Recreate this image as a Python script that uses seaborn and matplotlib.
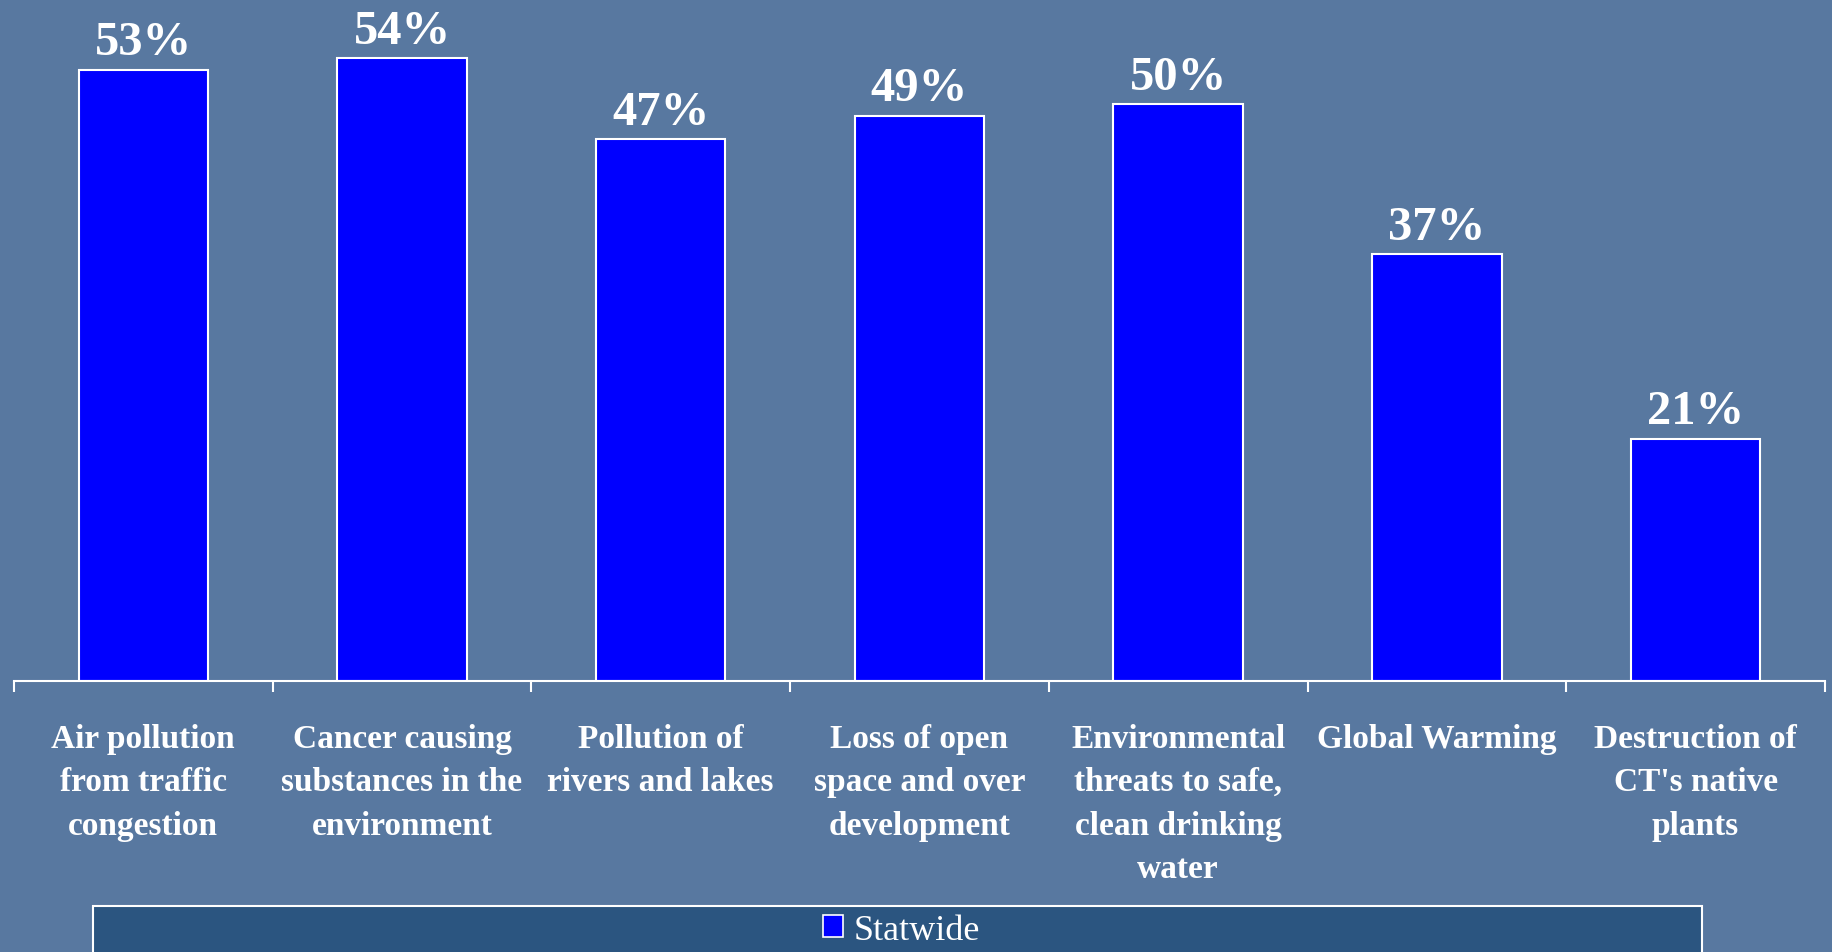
import matplotlib
matplotlib.use('Agg')
import matplotlib.pyplot as plt
from matplotlib.patches import Rectangle, Patch
import seaborn as sns

# data
categories = ["Air pollution\nfrom traffic\ncongestion",
              "Cancer causing\nsubstances in the\nenvironment",
              "Pollution of\nrivers and lakes",
              "Loss of open\nspace and over\ndevelopment",
              "Environmental\nthreats to safe,\nclean drinking\nwater",
              "Global Warming",
              "Destruction of\nCT's native\nplants"]
values = [53, 54, 47, 49, 50, 37, 21]
series_name = "Statwide"

bg = '#5878A0'
sns.set_style('white')
plt.rcParams['font.family'] = ['Liberation Serif', 'DejaVu Serif']

fig = plt.figure(figsize=(18.33, 9.53), dpi=100, facecolor=bg)
ax = fig.add_axes([0.0076, 0.2844, 0.988, 0.7156])
ax.set_facecolor(bg)

sns.barplot(x=list(range(len(values))), y=values, color='#0000FF', saturation=1,
            width=0.5, edgecolor='white', linewidth=1.5, ax=ax)

ax.bar_label(ax.containers[0], fmt='%d%%', padding=4, color='white',
             fontsize=35, fontweight='bold')

ax.set_xlim(-0.5, len(values) - 0.5)
ax.set_ylim(0, 59.15)
ax.set_yticks([])
for s in ['top', 'right', 'left']:
    ax.spines[s].set_visible(False)
ax.spines['bottom'].set_color('white')
ax.spines['bottom'].set_linewidth(1.5)

# boundary ticks, labels at the bar centres
ax.set_xticks([i - 0.5 for i in range(len(values) + 1)])
ax.set_xticklabels([])
ax.tick_params(axis='x', which='major', direction='out', length=8, width=1.5,
               color='white', bottom=True)
ax.set_xticks(range(len(values)), minor=True)
ax.set_xticklabels(categories, minor=True, color='white', fontsize=24,
                   fontweight='bold', linespacing=1.52, va='top')
ax.tick_params(axis='x', which='minor', length=0, pad=30)
ax.set_xlabel('')

# legend box across the bottom
fig.patches.append(Rectangle((0.0507, -0.02), 0.8778, 0.0683, transform=fig.transFigure,
                             facecolor='#2B5580', edgecolor='white', linewidth=1.5, zorder=0))
handle = Patch(facecolor='#0000FF', edgecolor='white', linewidth=1.2)
leg = fig.legend([handle], [series_name], loc='center', bbox_to_anchor=(0.4917, 0.023),
                 frameon=False, fontsize=26, handlelength=0.55, handleheight=0.55,
                 handletextpad=0.3, borderpad=0)
for t in leg.get_texts():
    t.set_color('white')

fig.savefig('out.png', dpi=100, facecolor=bg)
